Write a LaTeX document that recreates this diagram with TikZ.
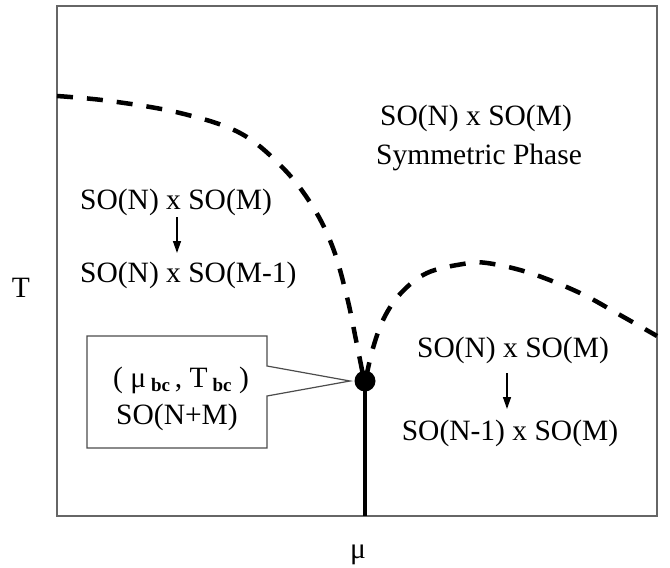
\documentclass[tikz,border=0pt]{standalone}
\usepackage{fontspec}
\setmainfont{Liberation Serif}
\usetikzlibrary{arrows.meta}
\begin{document}
\begin{tikzpicture}[x=1pt,y=-1pt,
  lbl/.style={inner sep=0pt,font=\fontsize{29.5}{34}\selectfont},
  frame/.style={draw=black!60,line width=1.3pt},
  boundary/.style={line width=4.5pt,dash pattern=on 16pt off 14pt},
  firstorder/.style={line width=4.5pt},
  breakarrow/.style={line width=1.4pt,-{Triangle[length=12pt,width=8pt]}},
  callout/.style={draw=black!70,line width=1.2pt}]
\useasboundingbox (0,0) rectangle (670,568);
\newcommand{\subbc}{\raisebox{-0.35ex}{\fontsize{19}{20}\selectfont\bfseries bc}}
% frame
\draw[frame] (57,6) rectangle (657,516);
% critical point
\coordinate (bc) at (365,381);
\coordinate (bot) at (365,516);
% boundaries
\draw[boundary] plot[smooth,tension=0.6] coordinates {(57,96) (110,101) (180,113) (240,133) (283,168) (313,207) (333,248) (347,297) (356,340) (363,375)};
\draw[boundary] plot[smooth,tension=0.6] coordinates {(366,378) (373,348) (384,318) (401,293) (427,273) (463,264) (487,263) (530,273) (580,293) (620,315) (657,336)};
\draw[firstorder] (bc) -- (bot);
\fill (bc) circle (10.5);
% callout
\draw[callout] (87,336) -- (267,336) -- (267,366) -- (350,381) -- (267,396) -- (267,448) -- (87,448) -- cycle;
\node[lbl] (cp1) at (181,380) {( μ\,\subbc\,, T\,\subbc\ )};
\node[lbl] (cp2) at (177,417) {SO(N+M)};
% labels
\node[lbl] (sym1) at (476,118) {SO(N) x SO(M)};
\node[lbl] (sym2) at (479,157) {Symmetric Phase};
\node[lbl,anchor=west] (l1) at (80,202) {SO(N) x SO(M)};
\node[lbl,anchor=west] (l2) at (80,275) {SO(N) x SO(M-1)};
\node[lbl] (r1) at (513,350) {SO(N) x SO(M)};
\node[lbl] (r2) at (510,433) {SO(N-1) x SO(M)};
\node[lbl] (T) at (21,288) {T};
\node[lbl] (mu) at (358,555) {μ};
% arrows
\coordinate (la1) at (177,217);
\coordinate (la2) at (177,253);
\coordinate (ra1) at (507,373);
\coordinate (ra2) at (507,409);
\draw[breakarrow] (la1) -- (la2);
\draw[breakarrow] (ra1) -- (ra2);
\end{tikzpicture}
\end{document}
